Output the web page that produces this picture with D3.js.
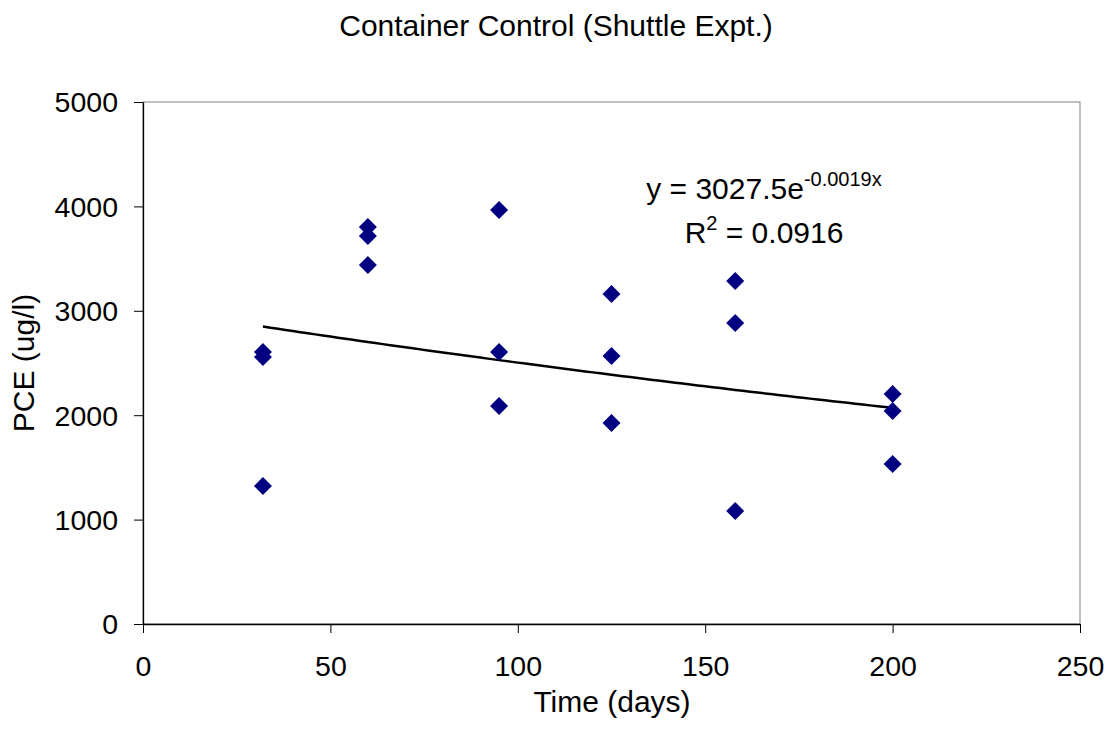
<!DOCTYPE html>
<html>
<head>
<meta charset="utf-8">
<script src="https://cdn.jsdelivr.net/npm/d3@7"></script>
<style>
  body { margin: 0; background: #fff; }
  svg text { font-family: "Liberation Sans", Arial, sans-serif; fill: #000; }
</style>
</head>
<body>
<div id="chart"></div>
<script>
// data
const days = [32, 32, 32, 60, 60, 60, 95, 95, 95, 125, 125, 125, 158, 158, 158, 200, 200, 200];
const pce = [2605, 2557, 1322, 3803, 3716, 3439, 3966, 2605, 2088, 3161, 2567, 1925, 3285, 2883, 1082, 2203, 2040, 1533];
const xTicks = [0, 50, 100, 150, 200, 250];
const yTicks = [0, 1000, 2000, 3000, 4000, 5000];
const fitA = 3027.5, fitB = -0.0019;

const W = 1112, H = 736;
const margin = {top: 102, right: 32, bottom: 112, left: 143};
const width = W - margin.left - margin.right;
const height = H - margin.top - margin.bottom;
const tickFont = 28.5, labelFont = 30;

const svg = d3.select('#chart').append('svg')
    .attr('width', W)
    .attr('height', H);

const chart = svg.append('g')
    .attr('transform', `translate(${margin.left},${margin.top})`);

const x = d3.scaleLinear().domain([0, 250]).range([0, width]);
const y = d3.scaleLinear().domain([0, 5000]).range([height, 0]);

// plot frame
chart.append('rect')
    .attr('width', width).attr('height', height)
    .attr('fill', 'none').attr('stroke', '#808080').attr('stroke-width', 1);

const xAxis = chart.append('g')
    .attr('transform', `translate(0,${height})`)
    .call(d3.axisBottom(x).tickValues(xTicks).tickFormat(d3.format('d')).tickSize(9).tickSizeOuter(0));
const yAxis = chart.append('g')
    .call(d3.axisLeft(y).tickValues(yTicks).tickFormat(d3.format('d')).tickSize(9).tickSizeOuter(0));

[xAxis, yAxis].forEach(a => {
    a.attr('font-size', tickFont).attr('font-family', null);
    a.select('.domain').attr('stroke', '#000').attr('stroke-width', 1.3);
    a.selectAll('.tick line').attr('stroke', '#000');
});
xAxis.selectAll('.tick text').attr('y', 52).attr('dy', 0);
yAxis.selectAll('.tick text').attr('x', -25).attr('dy', '0.35em');

// trend line
const fitPts = d3.range(d3.min(days), d3.max(days) + 1, 2);
const lineGen = d3.line().x(d => x(d)).y(d => y(fitA * Math.exp(fitB * d)));
chart.append('path')
    .datum(fitPts)
    .attr('d', lineGen)
    .attr('fill', 'none')
    .attr('stroke', '#000')
    .attr('stroke-width', 2.5);

// points
chart.selectAll('.pt')
    .data(days.map((d, i) => ({d: d, v: pce[i]})))
    .enter().append('path')
    .attr('class', 'pt')
    .attr('transform', p => `translate(${x(p.d)},${y(p.v)})`)
    .attr('d', 'M0,-9L9,0L0,9L-9,0Z')
    .attr('fill', '#000080');

// equation
const eq = svg.append('text')
    .attr('x', 764).attr('y', 199)
    .attr('font-size', labelFont)
    .attr('text-anchor', 'middle');
eq.append('tspan').text('y = 3027.5e');
eq.append('tspan').attr('font-size', 20).attr('dy', -13).text('-0.0019x');

const r2 = svg.append('text')
    .attr('x', 764).attr('y', 243)
    .attr('font-size', labelFont)
    .attr('text-anchor', 'middle');
r2.append('tspan').text('R');
r2.append('tspan').attr('font-size', 20).attr('dy', -13).text('2');
r2.append('tspan').attr('dy', 13).text(' = 0.0916');

// titles
svg.append('text')
    .attr('x', 556).attr('y', 36)
    .attr('text-anchor', 'middle')
    .attr('font-size', labelFont)
    .text('Container Control (Shuttle Expt.)');

svg.append('text')
    .attr('x', 612).attr('y', 712)
    .attr('text-anchor', 'middle')
    .attr('font-size', labelFont)
    .text('Time (days)');

svg.append('text')
    .attr('transform', `translate(34,${margin.top + height / 2}) rotate(-90)`)
    .attr('text-anchor', 'middle')
    .attr('font-size', labelFont)
    .text('PCE (ug/l)');
</script>
</body>
</html>
